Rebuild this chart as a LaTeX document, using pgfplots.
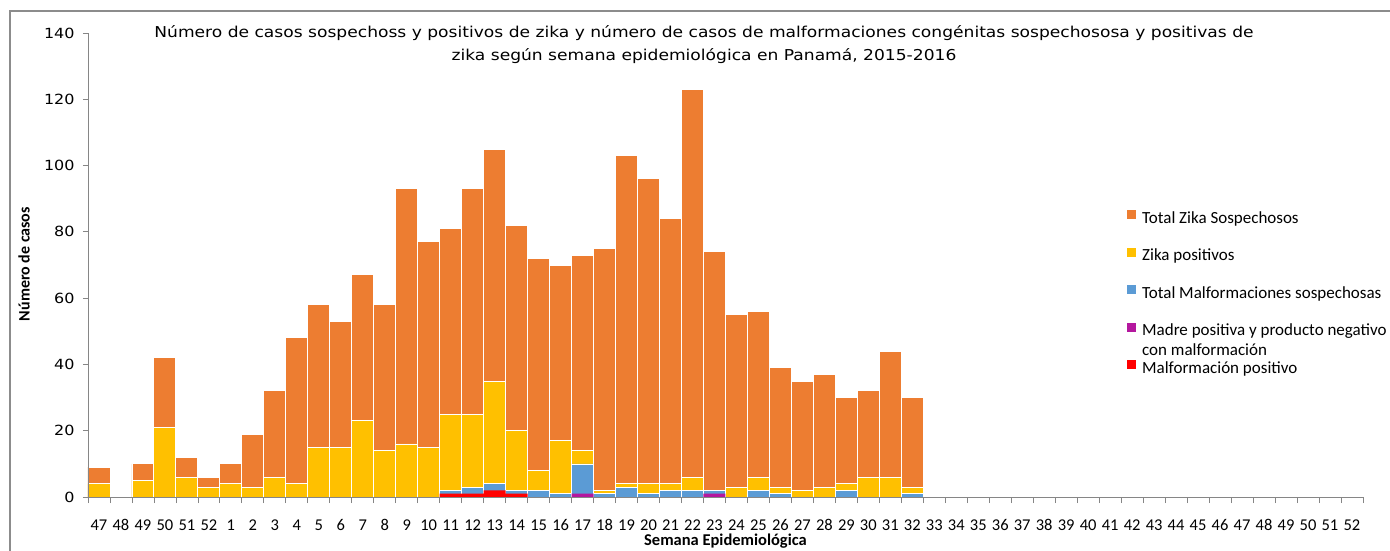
\documentclass[border=0pt]{standalone}
\usepackage{fontspec}
\setmainfont{Carlito}
\newfontfamily\verd[FakeStretch=1.14]{DejaVu Sans}
\usepackage{pgfplots}
\pgfplotsset{compat=1.18}
\definecolor{czs}{HTML}{ED7D31}
\definecolor{czp}{HTML}{FFC000}
\definecolor{cms}{HTML}{5B9BD5}
\definecolor{cmp}{HTML}{B4179E}
\definecolor{cmf}{HTML}{FF0000}
\definecolor{axgray}{HTML}{868686}
\definecolor{framegray}{HTML}{8C8C8C}
\begin{document}
\begin{tikzpicture}[x=1pt,y=1pt]
\useasboundingbox (0,0) rectangle (1390,550);
\draw[framegray, line width=1.4pt] (10,-5) -- (10,539) -- (1400,539);
\node[font=\verd\fontsize{15}{23}\selectfont, align=center] at (704,505)
 {Número de casos sospechoss y positivos de zika y número de casos de malformaciones congénitas sospechososa y positivas de\\zika según semana epidemiológica en Panamá, 2015-2016};
\begin{axis}[
 at={(88pt,53pt)}, anchor=south west, scale only axis,
 width=1275pt, height=464pt,
 xmin=-0.5, xmax=57.5, ymin=0, ymax=140,
 axis on top,
 axis x line*=bottom, axis y line*=left,
 axis line style={axgray, line width=0.8pt, -},
 tick align=outside,
 xtick={0,...,57},
 xticklabels={47,48,49,50,51,52,1,2,3,4,5,6,7,8,9,10,11,12,13,14,15,16,17,18,19,20,21,22,23,24,25,26,27,28,29,30,31,32,33,34,35,36,37,38,39,40,41,42,43,44,45,46,47,48,49,50,51,52},
 major x tick style={draw=none},
 minor xtick={-0.5,0.5,...,57.5},
 minor tick length=6pt,
 major tick length=5pt,
 tick style={axgray, line width=0.8pt},
 ytick={0,20,...,140},
 /pgf/number format/assume math mode=true,
 yticklabel style={font=\verd\fontsize{14}{16}\selectfont, xshift=-5pt},
 xticklabel style={font=\fontsize{16.5}{19}\selectfont, yshift=-14pt},
 ylabel={Número de casos},
 ylabel style={font=\bfseries\fontsize{16}{18}\selectfont, at={(rel axis cs:-0.0502,0.502)}, anchor=center},
 xlabel={Semana Epidemiológica},
 xlabel style={font=\bfseries\fontsize{16.5}{18}\selectfont, at={(rel axis cs:0.5,-0.095)}, anchor=center},
 legend style={at={(rel axis cs:0.8149,0.6185)}, anchor=north west, draw=none, fill=none,
   inner sep=0pt, row sep=20.5pt, column sep=6pt,
   nodes={inner sep=0pt, text height=11pt, text depth=4pt},
   font=\fontsize{17}{20}\selectfont},
 legend cell align=left,
 legend image code/.code={\fill[#1,draw=none] (0pt,0.5pt) rectangle (9pt,9.5pt);},
]
\addplot[ybar, bar width=1, bar shift=0pt, fill=czs, draw=white, line width=0.9pt] coordinates {
(0,9) (2,10) (3,42) (4,12) (5,6) (6,10) (7,19) (8,32) (9,48) (10,58) (11,53) (12,67) (13,58)
(14,93) (15,77) (16,81) (17,93) (18,105) (19,82) (20,72) (21,70) (22,73) (23,75) (24,103)
(25,96) (26,84) (27,123) (28,74) (29,55) (30,56) (31,39) (32,35) (33,37) (34,30) (35,32)
(36,44) (37,30)};
\addlegendentry{Total Zika Sospechosos}
\addplot[ybar, bar width=1, bar shift=0pt, fill=czp, draw=white, line width=0.9pt] coordinates {
(0,4) (2,5) (3,21) (4,6) (5,3) (6,4) (7,3) (8,6) (9,4) (10,15) (11,15) (12,23) (13,14)
(14,16) (15,15) (16,25) (17,25) (18,35) (19,20) (20,8) (21,17) (22,14) (23,2) (24,4)
(25,4) (26,4) (27,6) (28,1) (29,3) (30,6) (31,3) (32,2) (33,3) (34,4) (35,6)
(36,6) (37,3)};
\addlegendentry{Zika positivos}
\addplot[ybar, bar width=1, bar shift=0pt, fill=cms, draw=white, line width=0.6pt] coordinates {
(16,2) (17,3) (18,4) (19,2) (20,2) (21,1) (22,10) (23,1) (24,3) (25,1) (26,2) (27,2)
(28,2) (30,2) (31,1) (34,2) (37,1)};
\addlegendentry{Total Malformaciones sospechosas}
\addplot[ybar, bar width=1, bar shift=0pt, fill=cmp, draw=none] coordinates {
(22,1) (28,1)};
\addlegendentry{\smash{\parbox[t]{300pt}{Madre positiva y producto negativo\\con malformación}}}
\addplot[ybar, bar width=1, bar shift=0pt, fill=cmf, draw=none] coordinates {
(16,1) (17,1) (18,2) (19,1)};
\addlegendentry{Malformación positivo}
\end{axis}
\end{tikzpicture}
\end{document}
